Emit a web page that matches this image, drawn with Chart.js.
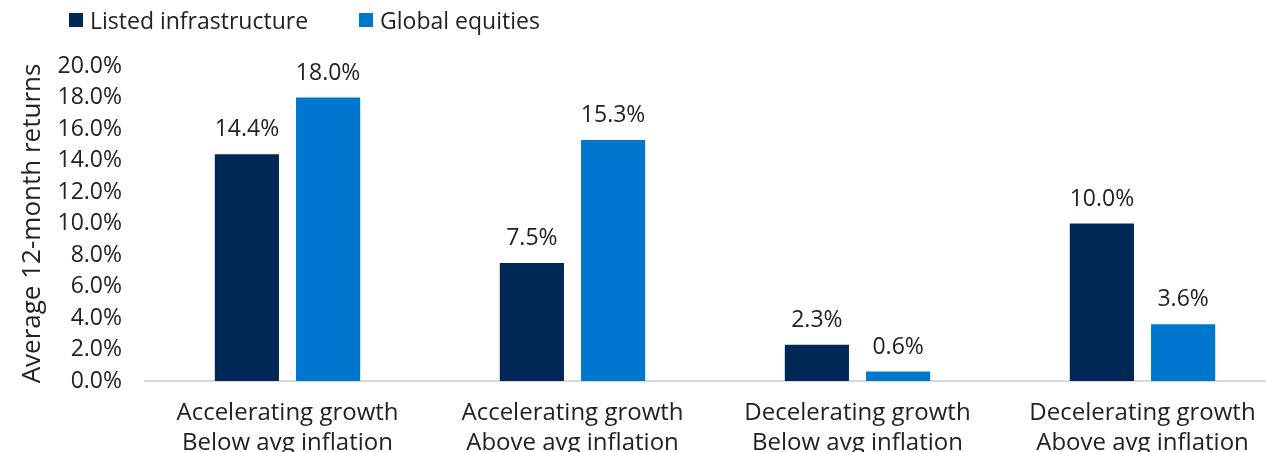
<!DOCTYPE html>
<html>
<head>
<meta charset="utf-8">
<script src="https://cdn.jsdelivr.net/npm/chart.js@4.4.1/dist/chart.umd.min.js"></script>
<style>
    html, body { margin: 0; padding: 0; background: #fff; overflow: hidden; }
    #wrap { position: relative; width: 1285px; height: 467px; }
    #legend { position: absolute; left: 69px; top: 4px; font-family: "Open Sans", sans-serif; font-size: 23px; color: #222; display: flex; }
    #legend span.item { display: flex; align-items: center; margin-right: 51px; }
    #legend span.box { display: inline-block; width: 14px; height: 14px; margin-right: 7px; }
</style>
</head>
<body>
<div id="wrap">
    <div id="legend"></div>
    <canvas id="chart" width="1285" height="467"></canvas>
</div>
<script>
// Scenario chart: listed infrastructure vs global equities

const categories = [
    ['Accelerating growth', 'Below avg inflation'],
    ['Accelerating growth', 'Above avg inflation'],
    ['Decelerating growth', 'Below avg inflation'],
    ['Decelerating growth', 'Above avg inflation']
];
const seriesNames = ['Listed infrastructure', 'Global equities'];
const infraValues = [14.4, 7.5, 2.3, 10.0];
const equityValues = [18.0, 15.3, 0.6, 3.6];
const seriesColors = ['#002856', '#0077cf'];

// Legend drawn as html
const legendEl = document.getElementById('legend');
legendEl.innerHTML = seriesNames.map((name, i) =>
    `<span class="item"><span class="box" style="background:${seriesColors[i]}"></span>${name}</span>`
).join('');

// Value labels above each bar
const valueLabels = {
    id: 'valueLabels',
    afterDatasetsDraw(chart) {
        const ctx = chart.ctx;
        ctx.save();
        ctx.font = '23px "Open Sans", sans-serif';
        ctx.fillStyle = '#222';
        ctx.textAlign = 'center';
        ctx.textBaseline = 'bottom';
        chart.data.datasets.forEach((ds, i) => {
            chart.getDatasetMeta(i).data.forEach((bar, j) => {
                ctx.fillText(ds.data[j].toFixed(1) + '%', bar.x, bar.y - 13);
            });
        });
        ctx.restore();
    }
};

new Chart(document.getElementById('chart'), {
    type: 'bar',
    data: {
        labels: categories,
        datasets: [
            { label: seriesNames[0], data: infraValues, backgroundColor: seriesColors[0] },
            { label: seriesNames[1], data: equityValues, backgroundColor: seriesColors[1] }
        ]
    },
    options: {
        responsive: false,
        animation: false,
        layout: { padding: { top: 66, left: 0, right: 0, bottom: 0 } },
        categoryPercentage: 0.57,
        barPercentage: 0.79,
        plugins: {
            legend: { display: false },
            tooltip: { enabled: false }
        },
        scales: {
            x: {
                grid: { display: false },
                border: { color: '#d9d9d9', width: 2 },
                ticks: {
                    color: '#222',
                    font: { family: 'Open Sans', size: 24, lineHeight: 1.25 },
                    padding: 9
                }
            },
            y: {
                min: 0,
                max: 20,
                grid: { display: false, drawTicks: false },
                border: { display: false },
                ticks: {
                    stepSize: 2,
                    color: '#222',
                    font: { family: 'Open Sans', size: 23 },
                    padding: 23,
                    callback: v => v.toFixed(1) + '%'
                },
                title: {
                    display: true,
                    text: 'Average 12-month returns',
                    color: '#222',
                    font: { family: 'Open Sans', size: 26 },
                    padding: { top: 17, bottom: 0 }
                },
                // fixed axis width so the plot starts where the reference does
                afterFit: scale => { scale.width = 145; }
            }
        }
    },
    plugins: [valueLabels]
});
</script>
</body>
</html>
